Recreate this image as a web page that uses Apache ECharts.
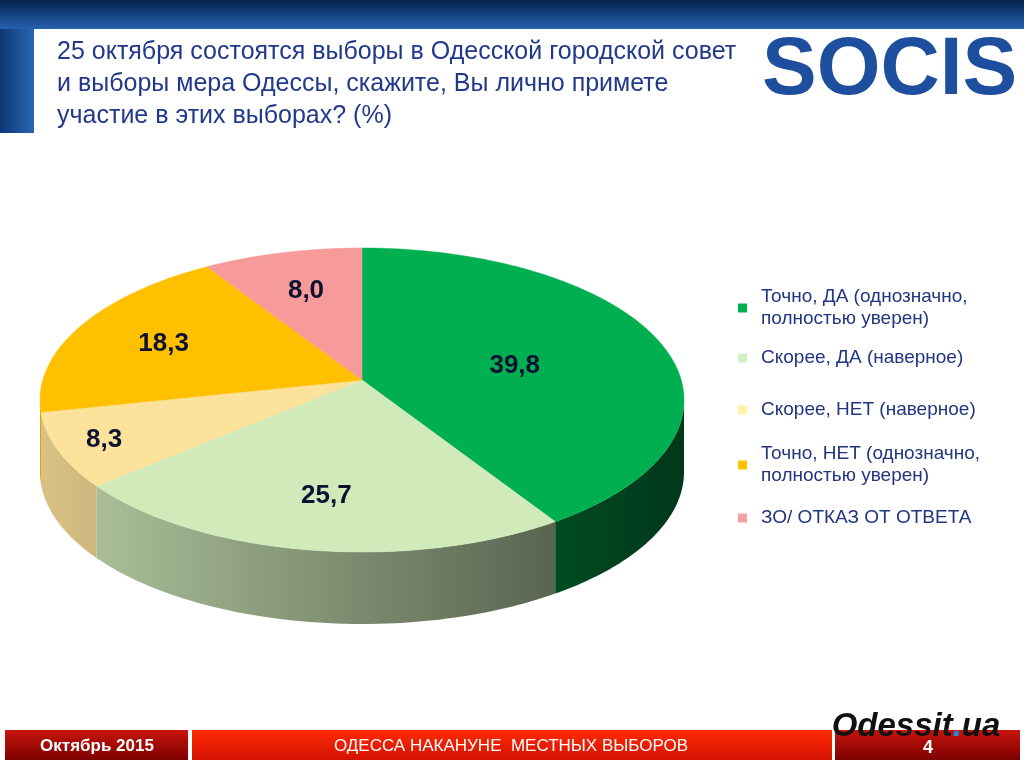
<!DOCTYPE html>
<html>
<head>
<meta charset="utf-8">
<script src="https://cdn.jsdelivr.net/npm/echarts@6/dist/echarts.min.js"></script>
<style>
  html, body { margin: 0; padding: 0; background: #fff; }
  #main { width: 1024px; height: 760px; }
</style>
</head>
<body>
<div id="main"></div>
<script>
var chartDom = document.getElementById('main');
var myChart = echarts.init(chartDom);
var option;

// data
const categories = [
    'Точно, ДА (однозначно,\nполностью уверен)',
    'Скорее, ДА (наверное)',
    'Скорее, НЕТ (наверное)',
    'Точно, НЕТ (однозначно,\nполностью уверен)',
    'ЗО/ ОТКАЗ ОТ ОТВЕТА'
];
const values = [39.8, 25.7, 8.3, 18.3, 8.0];

const colors = ['#00b050', '#d0eaba', '#fce29a', '#ffc000', '#f79a9a'];
const legendColors = ['#00b050', '#d3f0c0', '#fdf3a3', '#ffc000', '#f7a0a0'];
const labelPull = [0.5, 0.68, 0.85, 0.7, 0.7];
const legendTops = [275, 347, 399, 432, 507];

// pie geometry (tilted ellipse)
const CX = 362, CY = 400, RX = 322, RY = 152, VX = 362, VY = 380, DEPTH = 72;

const total = values.reduce((a, b) => a + b, 0);
const starts = [];
let acc = 0;
values.forEach(v => { starts.push(acc); acc += v; });

function rim(t, dy) {
    return [CX + RX * Math.sin(t), CY - RY * Math.cos(t) + (dy || 0)];
}

function shade(hex, f) {
    const n = parseInt(hex.slice(1), 16);
    const r = Math.round(((n >> 16) & 255) * f);
    const g = Math.round(((n >> 8) & 255) * f);
    const b = Math.round((n & 255) * f);
    return 'rgb(' + r + ',' + g + ',' + b + ')';
}

function renderSlice(params, api) {
    const i = params.seriesIndex;
    const v = api.value(0);
    const a1 = starts[i] / total * 2 * Math.PI;
    const a2 = a1 + v / total * 2 * Math.PI;
    const children = [];

    // outer side (only the front half is visible)
    const s1 = Math.max(a1, Math.PI / 2), s2 = Math.min(a2, 3 * Math.PI / 2);
    if (s2 > s1) {
        const pts = [];
        const n = 60;
        for (let k = 0; k <= n; k++) pts.push(rim(s1 + (s2 - s1) * k / n));
        for (let k = n; k >= 0; k--) pts.push(rim(s1 + (s2 - s1) * k / n, DEPTH));
        children.push({
            type: 'polygon',
            shape: { points: pts },
            style: {
                fill: new echarts.graphic.LinearGradient(CX + RX, 0, CX - RX, 0, [
                    { offset: 0, color: shade(colors[i], 0.32) },
                    { offset: 1, color: shade(colors[i], 0.86) }
                ], true)
            },
            z2: 1
        });
    }

    // top face
    const top = [[VX, VY]];
    const m = Math.max(10, Math.round((a2 - a1) * 50));
    for (let k = 0; k <= m; k++) top.push(rim(a1 + (a2 - a1) * k / m));
    children.push({
        type: 'polygon',
        shape: { points: top },
        style: { fill: colors[i], stroke: colors[i], lineWidth: 0.5 },
        z2: 2
    });

    // value label
    const mid = (a1 + a2) / 2;
    const r = rim(mid);
    const f = labelPull[i];
    children.push({
        type: 'text',
        x: VX + f * (r[0] - VX),
        y: VY + f * (r[1] - VY),
        style: {
            text: v.toFixed(1).replace('.', ','),
            fill: '#0d1233',
            font: 'bold 26px "Liberation Sans", Arial, sans-serif',
            align: 'center',
            verticalAlign: 'middle'
        },
        z2: 3
    });

    return { type: 'group', children: children };
}

option = {
    backgroundColor: '#ffffff',
    animation: false,
    title: {
        text: '25 октября состоятся выборы в Одесской городской совет\nи выборы мера Одессы, скажите, Вы лично примете\nучастие в этих выборах? (%)',
        left: 57,
        top: 36,
        padding: 0,
        textStyle: {
            fontFamily: '"Liberation Sans", Arial, sans-serif',
            fontSize: 25,
            fontWeight: 'normal',
            color: '#21398a',
            lineHeight: 32
        }
    },
    legend: categories.map((name, i) => ({
        data: [name],
        left: 738,
        top: legendTops[i],
        padding: 0,
        icon: 'rect',
        itemWidth: 9,
        itemHeight: 9,
        selectedMode: false,
        textStyle: {
            fontFamily: '"Liberation Sans", Arial, sans-serif',
            fontSize: 19,
            color: '#22357f',
            lineHeight: 22,
            padding: name.indexOf('\n') >= 0 ? [22, 0, 0, 9] : [0, 0, 0, 9]
        }
    })),
    graphic: [
        // header bars
        {
            type: 'rect', shape: { x: 0, y: 0, width: 1024, height: 29 }, silent: true,
            style: { fill: new echarts.graphic.LinearGradient(0, 0, 0, 1, [
                { offset: 0, color: '#06224f' }, { offset: 1, color: '#2561ad' }]) }
        },
        {
            type: 'rect', shape: { x: 0, y: 29, width: 34, height: 104 }, silent: true,
            style: { fill: new echarts.graphic.LinearGradient(0, 0, 1, 0, [
                { offset: 0, color: '#0c3775' }, { offset: 1, color: '#2a66b4' }]) }
        },
        // SOCIS logo
        {
            type: 'text', left: 762, top: 30, silent: true,
            style: {
                text: 'SOCIS',
                font: 'bold 82px "Liberation Sans", Arial, sans-serif',
                fill: '#1d4f9e'
            }
        },
        // footer
        {
            type: 'rect', shape: { x: 5, y: 730, width: 183, height: 30 }, silent: true,
            style: { fill: new echarts.graphic.LinearGradient(0, 0, 0, 1, [
                { offset: 0, color: '#c8140c' }, { offset: 1, color: '#7c0200' }]) }
        },
        {
            type: 'rect', shape: { x: 192, y: 730, width: 640, height: 30 }, silent: true,
            style: { fill: new echarts.graphic.LinearGradient(0, 0, 0, 1, [
                { offset: 0, color: '#ff2a06' }, { offset: 1, color: '#d21200' }]) }
        },
        {
            type: 'rect', shape: { x: 835, y: 730, width: 185, height: 30 }, silent: true,
            style: { fill: new echarts.graphic.LinearGradient(0, 0, 0, 1, [
                { offset: 0, color: '#c8140c' }, { offset: 1, color: '#7c0200' }]) }
        },
        {
            type: 'text', x: 97, y: 746, silent: true,
            style: {
                text: 'Октябрь 2015', fill: '#fff', align: 'center', verticalAlign: 'middle',
                font: 'bold 17px "Liberation Sans Narrow", "Liberation Sans", Arial, sans-serif'
            }
        },
        {
            type: 'text', x: 511, y: 746, silent: true,
            style: {
                text: 'ОДЕССА НАКАНУНЕ  МЕСТНЫХ ВЫБОРОВ', fill: '#fff', align: 'center', verticalAlign: 'middle',
                font: '17px "Liberation Sans Narrow", "Liberation Sans", Arial, sans-serif'
            }
        },
        {
            type: 'text', x: 928, y: 748, silent: true,
            style: {
                text: '4', fill: '#fff', align: 'center', verticalAlign: 'middle',
                font: 'bold 18px "Liberation Sans", Arial, sans-serif'
            }
        },
        {
            type: 'text', x: 916, y: 727, silent: true, z: 10,
            style: {
                text: '{a|Odessit}{b|.}{a|ua}',
                align: 'center', verticalAlign: 'middle',
                rich: {
                    a: { font: 'italic bold 33px "Liberation Sans", Arial, sans-serif', fill: '#111' },
                    b: { font: 'italic bold 33px "Liberation Sans", Arial, sans-serif', fill: '#1a8fe0' }
                }
            }
        }
    ],
    series: categories.map((name, i) => ({
        name: name,
        type: 'custom',
        coordinateSystem: 'none',
        silent: true,
        itemStyle: { color: legendColors[i] },
        renderItem: renderSlice,
        data: [[values[i]]]
    }))
};

option && myChart.setOption(option);
</script>
</body>
</html>
